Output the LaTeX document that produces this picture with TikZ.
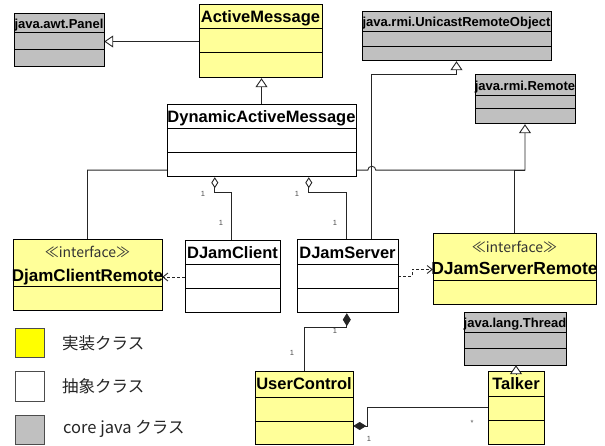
\documentclass[tikz,border=0pt]{standalone}
\usepackage{fontspec}
\setmainfont{Liberation Sans}
\newfontfamily\jp{Noto Sans CJK JP}
\usetikzlibrary{arrows.meta,calc,fit}
\definecolor{cy}{HTML}{FFFF99}
\definecolor{cg}{HTML}{C0C0C0}
\definecolor{ly}{HTML}{FFFF00}
\newcommand\nmf{\fontsize{16.5}{18}\selectfont\bfseries}
\newcommand\smf{\fontsize{13}{14}\selectfont\bfseries}
\tikzset{
  box/.style={draw=black, line width=1pt, inner sep=0pt},
  sepline/.style={line width=1pt},
  conn/.style={line width=0.9pt, draw=black!85},
  gen/.style={conn, -{Triangle[open, fill=white, length=9pt, width=12pt, line width=0.9pt]}},
  agg/.style={conn, -{Diamond[open, fill=white, length=11pt, width=7pt, line width=0.9pt]}},
  comp/.style={conn, -{Diamond[length=13pt, width=8pt]}},
  dep/.style={conn, dash pattern=on 3pt off 2pt, -{Straight Barb[length=5pt, width=8pt, line width=0.9pt]}},
  lbl/.style={font=\fontsize{7.5}{8}\selectfont, text=black!70, inner sep=0pt},
  nm/.style={inner sep=0pt, font=\nmf, text height=11.8pt, text depth=0pt},
  sm/.style={inner sep=0pt, font=\smf, text height=9.3pt, text depth=0pt},
  ster/.style={inner sep=0pt, font=\jp\fontsize{14}{16}\selectfont, text=black!80},
  lgbox/.style={draw=black!70, line width=0.8pt, inner sep=0pt},
  lgtext/.style={anchor=west, inner sep=0pt, font=\jp\fontsize{16.5}{18}\selectfont, text=black!85},
}
% id, x1, y1, x2, y2, sep1, sep2, fill, label style
\newcommand\umlcls[9]{%
  \node[box, fill=#8, fit={(#2,#3) (#4,#5)}] (#1) {};
  \draw[sepline] (#2,#6) -- (#4,#6);
  \ifx\relax#7\relax\else\draw[sepline] (#2,#7) -- (#4,#7);\fi
}
\begin{document}
\begin{tikzpicture}[x=1pt,y=-1pt]
\useasboundingbox (0,0) rectangle (605,446);

% helper coordinates (from boxes defined below are needed, so define boxes first invisibly)
% --- class boxes drawn on a later layer: first define node geometry via pgfonlayer-less ordering
\begin{scope}[opacity=0]
  \node[inner sep=0pt, fit={(14,14) (104,67)}] (panel) {};
  \node[inner sep=0pt, fit={(199,5) (322,78)}] (am) {};
  \node[inner sep=0pt, fit={(362,12) (551,61)}] (uni) {};
  \node[inner sep=0pt, fit={(475,75) (575,124)}] (rem) {};
  \node[inner sep=0pt, fit={(167,105) (356,177)}] (dam) {};
  \node[inner sep=0pt, fit={(13,240) (162,311)}] (djcr) {};
  \node[inner sep=0pt, fit={(185,241) (280,313)}] (djc) {};
  \node[inner sep=0pt, fit={(297,240) (398,313)}] (djs) {};
  \node[inner sep=0pt, fit={(433,234) (596,305)}] (djsr) {};
  \node[inner sep=0pt, fit={(464,313) (566,365)}] (thread) {};
  \node[inner sep=0pt, fit={(255,371) (353,444)}] (uc) {};
  \node[inner sep=0pt, fit={(488,371) (544,444)}] (talker) {};
\end{scope}

\coordinate (jr) at ($(rem.south)+(0,46)$);
\coordinate (ux) at ($(djs.north west)+(75,0)$);

% --- connectors
\draw[gen] (am.west) -- (am.west -| panel.east);
\draw[gen] (dam.north) -- (dam.north |- am.south);
\draw[gen] (djcr.north) |- ($(ux |- jr)+(-4,0)$) arc[start angle=180, end angle=360, radius=4] -- (jr) -- (rem.south);
\draw[conn] ($(djsr.north west)+(82,0)$) |- (jr);
\draw[gen] (ux) |- ($(uni.south)+(0,13)$) -- (uni.south);
\draw[agg] ($(djc.north west)+(47,0)$) |- ($(dam.south west)+(48,15)$) -- ($(dam.south west)+(48,0)$);
\draw[agg] ($(djs.north west)+(50,0)$) |- ($(dam.south west)+(142,15)$) -- ($(dam.south west)+(142,0)$);
\draw[dep] (djc.west) -- (djc.west -| djcr.east);
\draw[dep] (djs.east) -- ++(14,0) |- (djsr.west);
\draw[comp] (uc.north) |- ($(djs.south west)+(50,14)$) -- ($(djs.south west)+(50,0)$);
\draw[comp] (talker.west) -| ($(uc.east)+(14,18.5)$) -- ($(uc.east)+(0,18.5)$);

% --- classes
\umlcls{panelb}{14}{14}{104}{67}{33}{50}{cg}{}
\node[sm] (panel-n) at (59,23.5) {java.awt.Panel};
\umlcls{amb}{199}{5}{322}{78}{29}{53}{cy}{}
\node[nm] (am-n) at (260.5,17) {ActiveMessage};
\umlcls{unib}{362}{12}{551}{61}{32}{47}{cg}{}
\node[sm] (uni-n) at (456.5,22) {java.rmi.UnicastRemoteObject};
\umlcls{remb}{475}{75}{575}{124}{96}{109}{cg}{}
\node[sm] (rem-n) at (525,85.5) {java.rmi.Remote};
\umlcls{damb}{167}{105}{356}{177}{129}{153}{white}{}
\node[nm] (dam-n) at (261.5,117) {DynamicActiveMessage};
\umlcls{djcrb}{13}{240}{162}{311}{287}{}{cy}{}
\node[ster] (djcr-s) at (87.5,252) {≪interface≫};
\node[nm, font=\fontsize{17}{18}\selectfont\bfseries] (djcr-n) at (87.5,276) {DjamClientRemote};
\umlcls{djcb}{185}{241}{280}{313}{265}{289}{white}{}
\node[nm] (djc-n) at (232.5,253) {DJamClient};
\umlcls{djsb}{297}{240}{398}{313}{265}{289}{white}{}
\node[nm] (djs-n) at (347.5,252.5) {DJamServer};
\umlcls{djsrb}{433}{234}{596}{305}{281}{}{cy}{}
\node[ster] (djsr-s) at (514.5,247) {≪interface≫};
\node[nm, font=\fontsize{17.5}{18}\selectfont\bfseries] (djsr-n) at (514.5,269) {DJamServerRemote};
\umlcls{threadb}{464}{313}{566}{365}{332}{348}{cg}{}
\node[sm] (thread-n) at (515,322.5) {java.lang.Thread};
\umlcls{ucb}{255}{371}{353}{444}{397}{421}{cy}{}
\node[nm] (uc-n) at (304,384) {UserControl};
\umlcls{talkerb}{488}{371}{544}{444}{396}{420}{cy}{}
\node[nm] (talker-n) at (516,383.5) {Talker};

\draw[gen] ($(talker.north)+(0,4)$) -- (talker.north |- thread.south);

% --- multiplicities
\node[lbl] (m1) at (203,194) {1};
\node[lbl] (m2) at (221,223) {1};
\node[lbl] (m3) at (297,194) {1};
\node[lbl] (m4) at (335,223) {1};
\node[lbl] (m5) at (335,331) {1};
\node[lbl] (m6) at (292,353) {1};
\node[lbl] (m7) at (472,423) {*};
\node[lbl] (m8) at (369,439) {1};

% --- legend
\node[lgbox, fill=ly, fit={(15,328) (44,357)}] (lg1) {};
\node[lgtext] (lg1t) at (62,343) {実装クラス};
\node[lgbox, fill=white, fit={(15,371) (44,401)}] (lg2) {};
\node[lgtext] (lg2t) at (62,386) {抽象クラス};
\node[lgbox, fill=cg, fit={(15,415) (44,444)}] (lg3) {};
\node[lgtext] (lg3t) at (63,429) {core java クラス};
\end{tikzpicture}
\end{document}
